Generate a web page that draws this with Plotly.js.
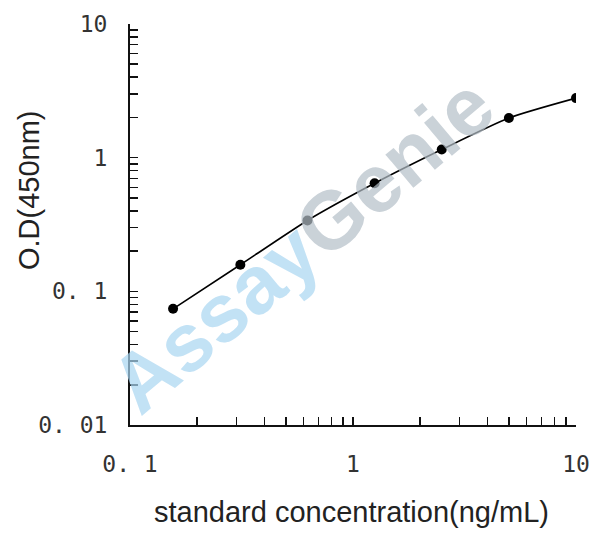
<!DOCTYPE html>
<html>
<head>
<meta charset="utf-8">
<script src="https://cdn.plot.ly/plotly-3.0.1.min.js"></script>
<style>
  body { margin: 0; background: #fff; }
  #chart { width: 608px; height: 542px; }
</style>
</head>
<body>
<div id="chart"></div>
<script>
// Data

const concentration = [0.156, 0.3125, 0.625, 1.25, 2.5, 5, 10];
const opticalDensity = [0.074, 0.158, 0.339, 0.643, 1.15, 1.98, 2.79];

const xDecades = [0.1, 1, 10];
const xDecadeLabels = ["0. 1", "1", "10"];
const yDecades = [0.01, 0.1, 1, 10];
const yDecadeLabels = ["0. 01", "0. 1", "1", "10"];

// Ticks at every digit of each decade, labels only on the decades
const logTicks = function (decades, labels) {
  const vals = [];
  const text = [];
  decades.forEach((d, i) => {
    vals.push(d);
    text.push(labels[i]);
    if (i < decades.length - 1) {
      for (let k = 2; k <= 9; k++) {
        vals.push(d * k);
        text.push("");
      }
    }
  });
  return { vals, text };
};

const xTicks = logTicks(xDecades, xDecadeLabels);
const yTicks = logTicks(yDecades, yDecadeLabels);

const tickFont = { family: "DejaVu Sans Mono, monospace", size: 23, color: "#333", weight: 300 };
const titleFont = { family: "Liberation Sans, Arial, sans-serif", size: 29, color: "#222" };

const data = [
  {
    x: concentration,
    y: opticalDensity,
    type: "scatter",
    mode: "lines+markers",
    line: { color: "#000", width: 1.6, shape: "spline", smoothing: 0.6 },
    marker: { color: "#000", size: 10, symbol: "circle" },
    hoverinfo: "x+y",
  },
];

const layout = {
  width: 608,
  height: 542,
  paper_bgcolor: "#fff",
  plot_bgcolor: "#fff",
  showlegend: false,
  margin: { l: 130, r: 32, t: 24, b: 117 },
  xaxis: {
    type: "log",
    range: [-1, 1],
    tickmode: "array",
    tickvals: xTicks.vals,
    ticktext: xTicks.text,
    ticks: "inside",
    ticklen: 8,
    tickwidth: 1.5,
    tickcolor: "#111",
    showline: true,
    linecolor: "#111",
    linewidth: 2,
    showgrid: false,
    zeroline: false,
    tickfont: tickFont,
    ticklabelstandoff: 17,
  },
  yaxis: {
    type: "log",
    range: [-2, 1],
    tickmode: "array",
    tickvals: yTicks.vals,
    ticktext: yTicks.text,
    ticks: "inside",
    ticklen: 8,
    tickwidth: 1.5,
    tickcolor: "#111",
    showline: true,
    linecolor: "#111",
    linewidth: 2,
    showgrid: false,
    zeroline: false,
    tickfont: tickFont,
    ticklabelstandoff: 16,
  },
  annotations: [
    {
      text: '<span style="color:#a9d6f2">Assay</span><span style="color:#b4bfc8">Genie</span>',
      xref: "paper",
      yref: "paper",
      x: 0.385,
      y: 0.45,
      textangle: -40,
      showarrow: false,
      opacity: 0.7,
      font: { family: "Liberation Sans, Arial, sans-serif", size: 82, weight: "bold" },
    },
    {
      text: "O.D(450nm)",
      xref: "paper",
      yref: "paper",
      x: -0.225,
      y: 0.585,
      xanchor: "center",
      yanchor: "middle",
      textangle: -90,
      showarrow: false,
      font: titleFont,
    },
    {
      text: "standard concentration(ng/mL)",
      xref: "paper",
      yref: "paper",
      x: 0.497,
      y: -0.218,
      xanchor: "center",
      yanchor: "middle",
      showarrow: false,
      font: titleFont,
    },
  ],
};

Plotly.newPlot("chart", data, layout, {
  displayModeBar: false,
  staticPlot: true,
});
</script>
</body>
</html>
